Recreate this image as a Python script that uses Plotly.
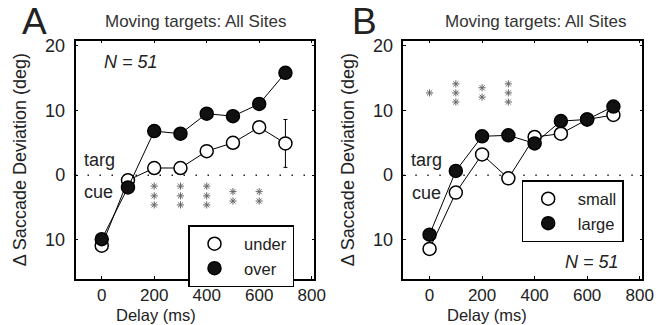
import plotly.graph_objects as go

# ---- data ----
delays = [0, 100, 200, 300, 400, 500, 600, 700]
under = [-10.9, -0.8, 1.1, 1.1, 3.7, 5.0, 7.4, 4.9]
under_err = [None, None, None, None, None, None, None, 3.7]
over = [-9.9, -1.9, 6.8, 6.4, 9.5, 9.1, 11.0, 15.8]
small = [-11.4, -2.7, 3.2, -0.5, 5.9, 6.4, 8.6, 9.3]
large = [-9.2, 0.65, 6.0, 6.15, 4.9, 8.35, 8.6, 10.6]

starsA_x = [200, 200, 200, 300, 300, 300, 400, 400, 400, 500, 500, 600, 600]
starsA_y = [-1.7, -3.2, -4.6, -1.7, -3.2, -4.6, -1.7, -3.2, -4.6, -2.55, -4.0, -2.55, -4.0]
starsB_x = [0, 100, 100, 100, 200, 200, 300, 300, 300]
starsB_y = [12.7, 14.1, 12.7, 11.3, 13.5, 12.05, 14.1, 12.7, 11.3]

x_ticks = [0, 200, 400, 600, 800]
y_ticks = [-10, 0, 10, 20]
y_ticktext = ["10", "0", "10", "20"]

FONT = "Liberation Sans, Arial, Helvetica, sans-serif"
TXT = "#222222"
W, H = 658, 325
NB = "\u00a0"

fig = go.Figure()

open_marker = dict(symbol="circle", size=13, color="white", line=dict(color="black", width=1.5))
fill_marker = dict(symbol="circle", size=13, color="#111111", line=dict(color="black", width=1.5))

def add_panel(xa, ya, open_y, fill_y, open_name, fill_name, legend, err=None):
    fig.add_trace(go.Scatter(
        x=delays, y=open_y, name=open_name, mode="lines+markers", showlegend=False,
        xaxis=xa, yaxis=ya, line=dict(color="black", width=1), marker=open_marker,
        error_y=(dict(type="data", array=err, visible=True, color="black", thickness=1, width=2)
                 if err is not None else None),
    ))
    fig.add_trace(go.Scatter(
        x=delays, y=fill_y, name=fill_name, mode="lines+markers", showlegend=False,
        xaxis=xa, yaxis=ya, line=dict(color="black", width=1), marker=fill_marker,
    ))
    # legend entries (marker only, as in the original)
    fig.add_trace(go.Scatter(x=[None], y=[None], name=NB + open_name, mode="markers",
                             xaxis=xa, yaxis=ya, legend=legend, marker=open_marker))
    fig.add_trace(go.Scatter(x=[None], y=[None], name=NB + fill_name, mode="markers",
                             xaxis=xa, yaxis=ya, legend=legend, marker=fill_marker))

add_panel("x", "y", under, over, "under", "over", "legend", under_err)
add_panel("x2", "y2", small, large, "small", "large", "legend2")

star_marker = dict(symbol="asterisk-open", size=6, color="#666666", line=dict(color="#666666", width=1))
fig.add_trace(go.Scatter(x=starsA_x, y=starsA_y, mode="markers", xaxis="x", yaxis="y",
                         showlegend=False, hoverinfo="skip", marker=star_marker))
fig.add_trace(go.Scatter(x=starsB_x, y=starsB_y, mode="markers", xaxis="x2", yaxis="y2",
                         showlegend=False, hoverinfo="skip", marker=star_marker))

ydom = [1 - 278.7 / H, 1 - 40.5 / H]
axis_common = dict(showline=True, linecolor="black", linewidth=1.5, mirror="ticks",
                   ticks="inside", ticklen=3, tickwidth=1, tickcolor="black",
                   showgrid=False, zeroline=False, automargin=False)
xtickfont = dict(family=FONT, size=17, color=TXT)
ytickfont = dict(family=FONT, size=18, color=TXT)
ytitle = dict(text="\u0394 Saccade Deviation (deg)", standoff=14,
              font=dict(family=FONT, size=18, color=TXT))

fig.update_layout(
    width=W, height=H,
    margin=dict(l=0, r=0, t=0, b=0),
    paper_bgcolor="white", plot_bgcolor="white",
    xaxis=dict(domain=[75.5 / W, 314.3 / W], range=[-100, 810], tickvals=x_ticks, anchor="y",
               ticklabelstandoff=0, tickfont=xtickfont, **axis_common),
    yaxis=dict(domain=ydom, range=[-16, 20.8], tickvals=y_ticks, ticktext=y_ticktext, anchor="x",
               ticklabelstandoff=5, tickfont=ytickfont, title=ytitle, **axis_common),
    xaxis2=dict(domain=[403.3 / W, 642.3 / W], range=[-100, 810], tickvals=x_ticks, anchor="y2",
                ticklabelstandoff=0, tickfont=xtickfont, **axis_common),
    yaxis2=dict(domain=ydom, range=[-16, 20.8], tickvals=y_ticks, ticktext=y_ticktext, anchor="x2",
                ticklabelstandoff=5, tickfont=ytickfont, title=ytitle, **axis_common),
    legend=dict(x=188 / W, y=1 - 225 / H, xanchor="left", yanchor="top",
                bordercolor="black", borderwidth=1.5, bgcolor="white",
                font=dict(family=FONT, size=16.5, color=TXT), itemwidth=40,
                tracegroupgap=0),
    legend2=dict(x=521.7 / W, y=1 - 180 / H, xanchor="left", yanchor="top",
                 bordercolor="black", borderwidth=1.5, bgcolor="white",
                 font=dict(family=FONT, size=16.5, color=TXT), itemwidth=40,
                 tracegroupgap=0),
    showlegend=True,
)

# zero dotted lines
for xr, yr in (("x domain", "y"), ("x2 domain", "y2")):
    fig.add_shape(type="line", xref=xr, yref=yr, x0=0, x1=1, y0=0, y1=0,
                  line=dict(color="#222222", width=1.5, dash="1.5px,10.5px"), layer="below")

def ann(text, x, y, size=18, xanchor="center", yanchor="middle", italic=False, color=TXT):
    fig.add_annotation(text=(f"<i>{text}</i>" if italic else text), x=x / W, y=1 - y / H,
                       xref="paper", yref="paper", xanchor=xanchor, yanchor=yanchor,
                       showarrow=False, borderpad=0,
                       font=dict(family=FONT, size=size, color=color))

ann("A", 21, 0, size=37, xanchor="left", yanchor="top")
ann("B", 351, 0, size=37, xanchor="left", yanchor="top")
ann("Moving targets: All Sites", 195, 21, size=17, color="#333333")
ann("Moving targets: All Sites", 535, 21, size=17, color="#333333")
ann("N = 51", 103, 62, xanchor="left", italic=True)
ann("N = 51", 620, 262, xanchor="right", italic=True)
ann("targ", 83, 160, xanchor="left")
ann("cue", 83, 192, xanchor="left")
ann("targ", 410, 160, xanchor="left")
ann("cue", 411, 193, xanchor="left")
ann("Delay (ms)", 156, 325, size=16.5, yanchor="bottom")
ann("Delay (ms)", 487, 325, size=16.5, yanchor="bottom")

fig.write_html("out.html", config={"displayModeBar": False},
               post_script="document.body.style.margin='0';document.body.style.padding='0';")
